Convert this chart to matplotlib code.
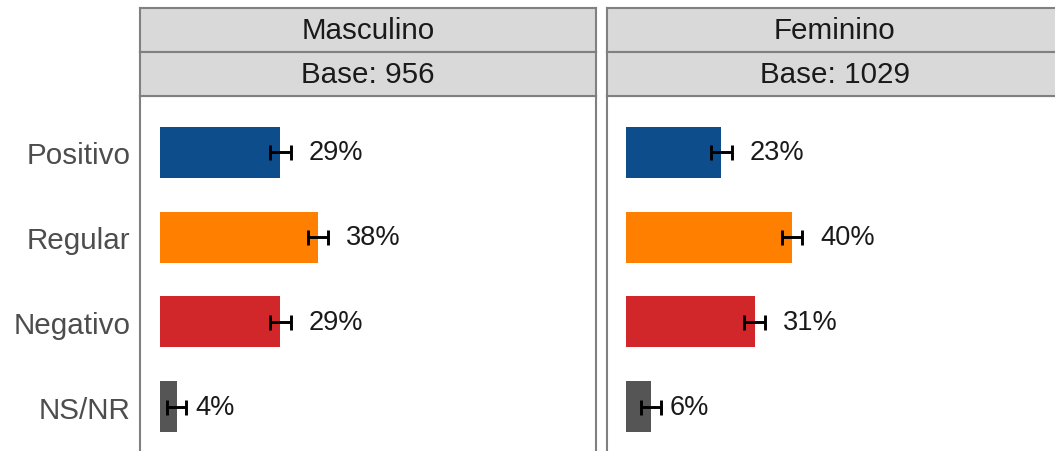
import matplotlib
matplotlib.use("Agg")
import matplotlib.pyplot as plt

plt.rcParams['font.family'] = ['Liberation Sans', 'DejaVu Sans']

categories = ["Positivo", "Regular", "Negativo", "NS/NR"]
panels = ["Masculino", "Feminino"]
bases = ["Base: 956", "Base: 1029"]
values_masc = [29, 38, 29, 4]
values_fem = [23, 40, 31, 6]
err_masc = [2.6, 2.45, 2.6, 2.3]
err_fem = [2.6, 2.4, 2.6, 2.4]
colors = ["#0E4D8C", "#FF7F00", "#D1262A", "#555555"]

W, H = 1055, 452
fig = plt.figure(figsize=(W / 100, H / 100), dpi=100)

def fx(px):
    return px / W

def fy(py_top, py_bot):
    return (H - py_bot) / H, (py_bot - py_top) / H

scale = 4.15
panel_left = [140, 607]
zero_px = [160, 626]
panel_w = 456
body_top, body_bot = 97, 464
strip_rows = [(9, 53), (53, 97)]
border = "#808080"

data = [(values_masc, err_masc), (values_fem, err_fem)]

for i in range(2):
    left = panel_left[i]
    b, h = fy(body_top, body_bot)
    ax = fig.add_axes([fx(left), b, fx(panel_w), h])
    vals, errs = data[i]
    ypos = list(range(len(categories)))
    ax.barh(ypos, vals, height=0.6, color=colors, edgecolor="none")
    ax.errorbar(vals, ypos, xerr=errs, fmt="none", ecolor="black",
                elinewidth=2.1, capsize=5.4, capthick=2.1)
    for y, v in zip(ypos, vals):
        off = 6.8 if v > 10 else 4.6
        ax.text(v + off, y, f"{v}%", va="center", ha="left",
                fontsize=19.6, color="#1A1A1A")
    xmin = -(zero_px[i] - left) / scale
    ax.set_xlim(xmin, xmin + panel_w / scale)
    ax.set_ylim(3.66, -0.66)
    ax.set_xticks([])
    ax.set_yticks(ypos)
    if i == 0:
        ax.set_yticklabels(categories, fontsize=21.3, color="#4D4D4D")
    else:
        ax.set_yticklabels([])
    ax.tick_params(axis="y", length=0, pad=7)
    for s in ax.spines.values():
        s.set_color(border)
        s.set_linewidth(1.5)

    for r, label in enumerate([panels[i], bases[i]]):
        t, bt = strip_rows[r]
        sb, sh = fy(t, bt)
        sax = fig.add_axes([fx(left), sb, fx(panel_w), sh])
        sax.set_facecolor("#D9D9D9")
        sax.set_xticks([])
        sax.set_yticks([])
        for s in sax.spines.values():
            s.set_color(border)
            s.set_linewidth(1.5)
        sax.text(0.5, 0.5, label, transform=sax.transAxes, ha="center",
                 va="center", fontsize=21.3, color="#1A1A1A")

fig.savefig("out.png", dpi=100)
